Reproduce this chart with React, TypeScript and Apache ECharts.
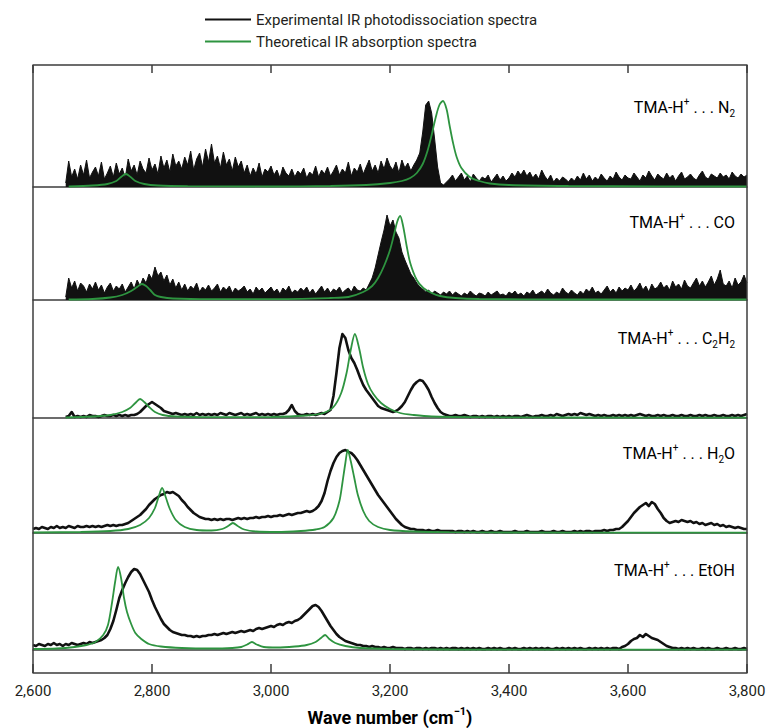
import React, { useEffect, useRef } from "react";
import * as echarts from "echarts";

// ---------------- DATA ----------------
const xMin = 2600;
const xMax = 3800;
const xInterval = 200;
const tickLabels = ["2,600", "2,800", "3,000", "3,200", "3,400", "3,600", "3,800"];
const expName = "Experimental IR photodissociation spectra";
const theoName = "Theoretical IR absorption spectra";
const expStep = 5;

// Panel 1: TMA-H+ ... N2 (experimental, every 5 cm-1 from n2Start)
const n2Start = 2655;
const n2Exp = [
  4, 26, 10, 18, 8, 22, 12, 27, 9, 15,
  20, 11, 25, 8, 14, 21, 10, 24, 13, 19,
  9, 28, 16, 22, 12, 26, 18, 14, 29, 17,
  23, 13, 31, 19, 27, 15, 33, 21, 26, 18,
  30, 22, 36, 17, 28, 34, 20, 38, 25, 43,
  24, 31, 19, 35, 22, 28, 16, 30, 20, 26,
  14, 22, 11, 19, 13, 24, 10, 18, 15, 21,
  12, 17, 9, 20, 14, 11, 18, 10, 16, 13,
  19, 9, 15, 12, 21, 10, 17, 13, 20, 11,
  16, 22, 12, 18, 14, 25, 11, 19, 15, 23,
  13, 20, 27, 16, 22, 14, 26, 18, 29, 21,
  17, 25, 14, 27, 19, 24, 16, 22, 27, 34,
  55, 82, 86, 74, 48, 20, 4, 2, 5, 8,
  12, 6, 10, 14, 7, 11, 5, 13, 9, 6,
  10, 8, 12, 5, 9, 13, 7, 11, 6, 9,
  14, 10, 16, 12, 17, 11, 15, 9, 13, 8,
  17, 11, 7, 12, 5, 9, 6, 10, 8, 5,
  9, 6, 11, 7, 14, 8, 12, 6, 10, 7,
  13, 9, 6, 11, 8, 15, 10, 7, 12, 9,
  8, 14, 10, 6, 12, 9, 16, 11, 7, 13,
  10, 8, 14, 9, 12, 6, 11, 15, 8, 10,
  13, 9, 7, 12, 16, 10, 8, 13, 11, 9,
  14, 10, 12, 8, 15, 11, 9, 13, 10, 12,
];
const n2Theo = [
  [2660, 0.5], [2700, 1.5], [2725, 3], [2740, 6], [2748, 10], [2756, 13], [2764, 10], [2772, 6],
  [2787, 3], [2810, 1.5], [2860, 0.8], [3000, 0.5], [3100, 1], [3160, 2], [3200, 4], [3220, 6],
  [3234, 9], [3245, 14], [3255, 23], [3263, 36], [3270, 52], [3277, 70], [3283, 82], [3289, 86],
  [3295, 78], [3300, 62], [3306, 44], [3312, 30], [3320, 19], [3334, 10], [3350, 6], [3368, 3.5],
  [3400, 2], [3500, 1], [3650, 0.6], [3800, 0.5],
];

// Panel 2: TMA-H+ ... CO
const coStart = 2655;
const coExp = [
  3, 22, 12, 19, 9, 17, 14, 8, 16, 11,
  18, 10, 15, 7, 13, 17, 9, 14, 11, 16,
  8, 13, 18, 11, 20, 14, 22, 17, 26, 21,
  33, 24, 28, 19, 25, 15, 21, 12, 18, 10,
  16, 9, 14, 11, 17, 8, 13, 10, 15, 9,
  12, 16, 8, 13, 10, 14, 7, 12, 9, 11,
  14, 8, 11, 6, 13, 9, 12, 7, 10, 13,
  8, 11, 6, 12, 9, 14, 7, 10, 8, 12,
  9, 13, 7, 11, 6, 10, 14, 8, 12, 7,
  11, 9, 13, 7, 10, 12, 8, 14, 10, 9,
  12, 10, 16, 22, 32, 45, 58, 70, 85, 74,
  80, 68, 62, 48, 40, 33, 26, 22, 17, 13,
  11, 8, 10, 6, 9, 7, 5, 8, 6, 9,
  5, 8, 6, 4, 7, 5, 9, 6, 4, 7,
  6, 4, 8, 5, 7, 9, 5, 6, 4, 8,
  6, 9, 5, 7, 4, 8, 6, 10, 5, 7,
  9, 6, 11, 7, 5, 8, 6, 12, 8, 6,
  10, 7, 5, 9, 6, 11, 8, 13, 7, 9,
  6, 10, 14, 8, 11, 7, 13, 9, 12, 10,
  15, 9, 12, 17, 10, 14, 8, 16, 11, 13,
  18, 12, 15, 10, 19, 13, 16, 11, 20, 14,
  12, 17, 22, 14, 19, 13, 18, 24, 15, 21,
  30, 16, 14, 19, 12, 22, 15, 18, 25, 17,
];
const coTheo = [
  [2660, 0.5], [2700, 1], [2730, 2.5], [2750, 5], [2765, 9], [2775, 13], [2783, 16], [2790, 14],
  [2797, 10], [2805, 5], [2815, 3], [2835, 1.5], [2900, 0.8], [3000, 0.8], [3100, 2], [3130, 3],
  [3155, 8], [3170, 14], [3180, 22], [3190, 34], [3200, 50], [3207, 66], [3212, 78], [3217, 84],
  [3222, 74], [3228, 54], [3234, 37], [3245, 20], [3256, 12], [3270, 7], [3284, 4], [3310, 2],
  [3350, 1], [3500, 0.5], [3800, 0.5],
];

// Panel 3: TMA-H+ ... C2H2
const c2h2Start = 2655;
const c2h2Exp = [
  1, 2, 6, 1, 2, 1, 2, 1, 3, 2,
  2, 1, 2, 3, 2, 2, 3, 2, 3, 2,
  3, 2, 3, 3, 4, 6, 9, 12, 14, 16,
  14, 12, 10, 7, 6, 5, 4, 5, 4, 3,
  4, 3, 4, 3, 5, 3, 4, 3, 4, 3,
  4, 3, 5, 4, 3, 5, 4, 3, 4, 5,
  3, 4, 3, 4, 5, 3, 4, 3, 4, 3,
  4, 3, 4, 4, 5, 8, 13, 7, 4, 3,
  3, 4, 3, 4, 3, 4, 5, 4, 6, 8,
  22, 45, 70, 84, 80, 68, 60, 55, 48, 40,
  33, 28, 24, 20, 16, 12, 10, 9, 8, 7,
  6, 7, 9, 12, 16, 22, 28, 33, 36, 38,
  37, 33, 28, 21, 15, 10, 6, 4, 3, 2,
  2, 3, 2, 2, 3, 2, 1, 2, 2, 1,
  2, 1, 2, 2, 1, 2, 1, 2, 1, 2,
  1, 2, 2, 1, 2, 3, 2, 1, 2, 2,
  3, 2, 2, 3, 2, 4, 3, 2, 3, 4,
  3, 4, 3, 5, 4, 3, 4, 3, 2, 3,
  2, 3, 2, 2, 3, 2, 3, 2, 3, 2,
  3, 2, 3, 4, 3, 2, 3, 2, 2, 3,
  2, 3, 2, 2, 3, 2, 2, 3, 2, 2,
  3, 2, 2, 3, 2, 3, 2, 2, 3, 2,
  2, 3, 2, 2, 3, 2, 3, 2, 3, 4,
];
const c2h2Theo = [
  [2655, 0.5], [2700, 1.5], [2730, 3], [2750, 6], [2763, 10], [2772, 15], [2780, 19], [2787, 16],
  [2795, 11], [2805, 6], [2818, 3], [2840, 1.5], [2900, 0.8], [3000, 1], [3060, 2.5], [3088, 5],
  [3105, 11], [3118, 25], [3127, 45], [3134, 68], [3141, 84], [3148, 70], [3155, 50], [3163, 34],
  [3172, 24], [3185, 15], [3200, 9], [3217, 5], [3240, 3], [3270, 1.5], [3350, 0.8], [3500, 0.5],
  [3800, 0.4],
];

// Panel 4: TMA-H+ ... H2O
const h2oStart = 2600;
const h2oExp = [
  4, 5, 4, 6, 5, 4, 6, 5, 7, 5,
  6, 5, 7, 6, 5, 7, 6, 6, 7, 6,
  7, 6, 7, 6, 7, 8, 7, 8, 7, 8,
  8, 9, 10, 12, 14, 16, 18, 21, 24, 28,
  31, 34, 36, 38, 39, 41, 40, 41, 39, 37,
  33, 30, 26, 23, 20, 18, 16, 15, 14, 14,
  13, 14, 13, 14, 13, 14, 14, 13, 14, 15,
  14, 15, 14, 15, 15, 16, 15, 16, 16, 17,
  16, 17, 17, 18, 17, 18, 19, 18, 19, 20,
  20, 21, 22, 21, 22, 24, 27, 32, 40, 52,
  62, 70, 76, 80, 82, 83, 81, 80, 77, 73,
  68, 63, 58, 53, 48, 43, 38, 34, 30, 26,
  22, 18, 14, 11, 8, 6, 5, 4, 4, 3,
  3, 3, 2, 3, 2, 2, 3, 2, 2, 2,
  2, 2, 1, 2, 2, 1, 2, 1, 2, 1,
  1, 2, 1, 1, 2, 1, 1, 2, 1, 1,
  1, 1, 2, 1, 1, 1, 2, 1, 1, 1,
  1, 2, 1, 1, 1, 2, 1, 1, 2, 1,
  1, 1, 2, 1, 2, 1, 2, 2, 1, 2,
  2, 2, 3, 2, 3, 3, 4, 4, 6, 9,
  12, 16, 20, 23, 26, 28, 30, 27, 31, 29,
  24, 20, 15, 12, 10, 11, 12, 11, 13, 12,
  11, 12, 10, 11, 9, 10, 8, 9, 10, 8,
  9, 7, 8, 6, 7, 6, 5, 6, 5, 4,
  4,
];
const h2oTheo = [
  [2600, 0.5], [2680, 1], [2730, 2], [2760, 4], [2780, 8], [2795, 15], [2805, 25], [2811, 36],
  [2817, 45], [2823, 36], [2830, 24], [2840, 13], [2855, 6], [2875, 3], [2900, 2.5], [2918, 4],
  [2928, 7], [2936, 10], [2944, 7], [2955, 3.5], [2975, 1.5], [3010, 1], [3050, 2], [3075, 3.5],
  [3090, 6], [3105, 15], [3115, 32], [3120, 50], [3125, 70], [3129, 83], [3134, 72], [3140, 55],
  [3146, 38], [3155, 22], [3165, 12], [3180, 6], [3200, 3], [3240, 1.5], [3300, 0.8], [3400, 0.5],
  [3800, 0.3],
];

// Panel 5: TMA-H+ ... EtOH
const etohStart = 2600;
const etohExp = [
  5, 4, 6, 5, 4, 6, 5, 7, 5, 6,
  4, 6, 5, 7, 6, 5, 6, 7, 6, 8,
  7, 8, 9, 10, 12, 15, 21, 29, 40, 52,
  60, 67, 73, 78, 81, 80, 76, 70, 64, 58,
  50, 43, 37, 31, 26, 23, 20, 18, 17, 16,
  15, 15, 14, 14, 13, 14, 13, 14, 14, 15,
  15, 16, 15, 16, 17, 16, 17, 18, 17, 18,
  19, 18, 19, 20, 19, 21, 22, 21, 22, 23,
  24, 23, 25, 26, 25, 27, 28, 27, 29, 30,
  32, 35, 38, 41, 44, 45, 43, 39, 34, 29,
  24, 20, 16, 13, 11, 9, 8, 7, 6, 5,
  5, 4, 4, 3, 4, 3, 3, 2, 3, 2,
  2, 3, 2, 2, 2, 1, 2, 2, 1, 2,
  2, 1, 2, 1, 2, 2, 1, 2, 1, 2,
  1, 2, 2, 1, 2, 1, 2, 1, 2, 1,
  2, 1, 1, 2, 1, 2, 1, 2, 1, 1,
  2, 1, 2, 1, 1, 2, 1, 2, 1, 2,
  1, 2, 1, 2, 1, 1, 2, 1, 2, 1,
  2, 1, 2, 1, 2, 1, 1, 2, 1, 2,
  1, 2, 1, 2, 1, 2, 2, 1, 3, 4,
  6, 9, 11, 12, 15, 13, 16, 14, 12, 11,
  10, 8, 6, 4, 3, 2, 2, 1, 2, 1,
  2, 1, 2, 1, 1, 2, 1, 2, 1, 1,
  2, 1, 1, 2, 1, 1, 2, 1, 1, 2,
  1,
];
const etohTheo = [
  [2600, 1], [2640, 1.5], [2670, 3], [2690, 5], [2705, 8], [2718, 15], [2726, 25], [2733, 48],
  [2738, 68], [2743, 83], [2748, 72], [2753, 52], [2758, 38], [2765, 26], [2772, 17], [2782, 11],
  [2795, 6], [2815, 3.5], [2850, 2], [2900, 1.5], [2935, 2], [2950, 3], [2960, 5.5], [2968, 8],
  [2976, 5.5], [2988, 3], [3010, 2.5], [3040, 3.5], [3060, 5], [3075, 8], [3084, 12], [3091, 15],
  [3098, 11], [3108, 7], [3125, 4], [3150, 2], [3200, 1], [3300, 0.5], [3800, 0.3],
];

// Panel labels (rich text: sup / sub)
const panelLabels = [
  "{t|TMA-H}{sup|+}{t| . . . N}{sub|2}",
  "{t|TMA-H}{sup|+}{t| . . . CO}",
  "{t|TMA-H}{sup|+}{t| . . . C}{sub|2}{t|H}{sub|2}",
  "{t|TMA-H}{sup|+}{t| . . . H}{sub|2}{t|O}",
  "{t|TMA-H}{sup|+}{t| . . . EtOH}",
];
const axisTitle = "{b|Wave number (cm}{s|\u22121}{b|)}";

// ---------------- LAYOUT / STYLE ----------------
const FONT = "Roboto, 'Liberation Sans', sans-serif";
const FRAME = "#3c3c3c";
const BLACK = "#111111";
const GREEN = "#2e9440";
const frameLeft = 33;
const frameWidth = 714;
const frameTop = 65;
const frameBottom = 673;
const gridTops = [65, 187, 300, 418, 533];
const gridHeights = [122, 113, 118, 115, 117];
const labelYs = [107, 222, 338, 453, 570];

const panels = [
  { start: n2Start, exp: n2Exp, theo: n2Theo, filled: true },
  { start: coStart, exp: coExp, theo: coTheo, filled: true },
  { start: c2h2Start, exp: c2h2Exp, theo: c2h2Theo, filled: false },
  { start: h2oStart, exp: h2oExp, theo: h2oTheo, filled: false },
  { start: etohStart, exp: etohExp, theo: etohTheo, filled: false },
];

function buildOption() {
  const grid: any[] = gridTops.map((t, i) => ({
    left: frameLeft,
    width: frameWidth,
    top: t,
    height: gridHeights[i],
    outerBoundsMode: "none",
    containLabel: false,
  }));
  grid.push({ left: frameLeft, width: frameWidth, top: 650, height: frameBottom - 650, outerBoundsMode: "none", containLabel: false });

  const xAxis: any[] = gridTops.map((_, i) => ({
    type: "value",
    gridIndex: i,
    min: xMin,
    max: xMax,
    interval: xInterval,
    axisLine: { show: true, onZero: false, lineStyle: { color: FRAME, width: 1.5 } },
    axisTick: { show: false },
    axisLabel: { show: false },
    splitLine: { show: false },
  }));
  // bottom frame with labels
  xAxis.push({
    type: "value",
    gridIndex: 5,
    min: xMin,
    max: xMax,
    interval: xInterval,
    position: "bottom",
    axisLine: { show: true, onZero: false, lineStyle: { color: FRAME, width: 1.5 } },
    axisTick: { show: true, inside: true, length: 9, lineStyle: { color: FRAME, width: 1.5 } },
    axisLabel: {
      show: true,
      margin: 10,
      fontSize: 15,
      fontFamily: FONT,
      color: "#231f20",
      formatter: (v: number) => tickLabels[Math.round((v - xMin) / xInterval)] ?? "",
    },
    splitLine: { show: false },
  });
  // top frame with inward ticks
  xAxis.push({
    type: "value",
    gridIndex: 0,
    min: xMin,
    max: xMax,
    interval: xInterval,
    position: "top",
    axisLine: { show: true, onZero: false, lineStyle: { color: FRAME, width: 1.5 } },
    axisTick: { show: true, inside: true, length: 8, lineStyle: { color: FRAME, width: 1.5 } },
    axisLabel: { show: false },
    splitLine: { show: false },
  });

  const yAxis: any[] = gridTops.map((_, i) => ({
    type: "value",
    gridIndex: i,
    min: 0,
    max: gridHeights[i],
    show: false,
  }));
  yAxis.push({ type: "value", gridIndex: 5, min: 0, max: 1, show: false });

  const series: any[] = [];
  panels.forEach((p, i) => {
    series.push({
      type: "line",
      name: expName,
      xAxisIndex: i,
      yAxisIndex: i,
      data: p.exp.map((v, k) => [p.start + k * expStep, v]),
      showSymbol: false,
      symbol: "none",
      color: BLACK,
      itemStyle: { color: BLACK },
      lineStyle: { color: BLACK, width: p.filled ? 1 : 2.6, join: "round" },
      areaStyle: p.filled ? { color: BLACK, opacity: 1 } : undefined,
      z: 2,
    });
  });
  panels.forEach((p, i) => {
    series.push({
      type: "line",
      name: theoName,
      xAxisIndex: i,
      yAxisIndex: i,
      data: p.theo,
      showSymbol: false,
      symbol: "none",
      smooth: 0.3,
      color: GREEN,
      itemStyle: { color: GREEN },
      lineStyle: { color: GREEN, width: 1.8 },
      z: 3,
    });
  });

  const rich = {
    t: { fontSize: 16, fontFamily: FONT, color: "#231f20", lineHeight: 22 },
    sup: { fontSize: 10, fontFamily: FONT, color: "#231f20", lineHeight: 10, verticalAlign: "top" },
    sub: { fontSize: 10, fontFamily: FONT, color: "#231f20", lineHeight: 10, verticalAlign: "bottom" },
  };

  const graphic: any[] = [
    { type: "line", shape: { x1: frameLeft, y1: frameTop, x2: frameLeft, y2: frameBottom }, style: { stroke: FRAME, lineWidth: 1.5 }, z: 10 },
    { type: "line", shape: { x1: frameLeft + frameWidth, y1: frameTop, x2: frameLeft + frameWidth, y2: frameBottom }, style: { stroke: FRAME, lineWidth: 1.5 }, z: 10 },
    ...panelLabels.map((txt, i) => ({
      type: "text",
      x: 735,
      y: labelYs[i],
      z: 10,
      style: { text: txt, rich, align: "right", verticalAlign: "middle" },
    })),
    {
      type: "text",
      x: 390,
      y: 717,
      z: 10,
      style: {
        text: axisTitle,
        align: "center",
        verticalAlign: "middle",
        rich: {
          b: { fontSize: 18, fontWeight: "bold", fontFamily: FONT, color: "#231f20", lineHeight: 22 },
          s: { fontSize: 11, fontWeight: "bold", fontFamily: FONT, color: "#231f20", lineHeight: 11, verticalAlign: "top" },
        },
      },
    },
  ];

  return {
    animation: false,
    backgroundColor: "#ffffff",
    legend: {
      orient: "vertical",
      left: 200,
      top: 7,
      itemWidth: 46,
      itemHeight: 2,
      itemGap: 7,
      icon: "rect",
      selectedMode: false,
      textStyle: { fontSize: 15, fontFamily: FONT, color: "#231f20" },
      data: [
        { name: expName, itemStyle: { color: BLACK } },
        { name: theoName, itemStyle: { color: GREEN } },
      ],
    },
    grid,
    xAxis,
    yAxis,
    series,
    graphic,
  };
}

export default function App() {
  const ref = useRef<HTMLDivElement>(null);
  useEffect(() => {
    document.body.style.margin = "0";
    if (!ref.current) return;
    const chart = echarts.init(ref.current, undefined, { renderer: "svg" });
    chart.setOption(buildOption() as any);
    return () => chart.dispose();
  }, []);
  return <div ref={ref} style={{ width: 768, height: 728 }} />;
}
